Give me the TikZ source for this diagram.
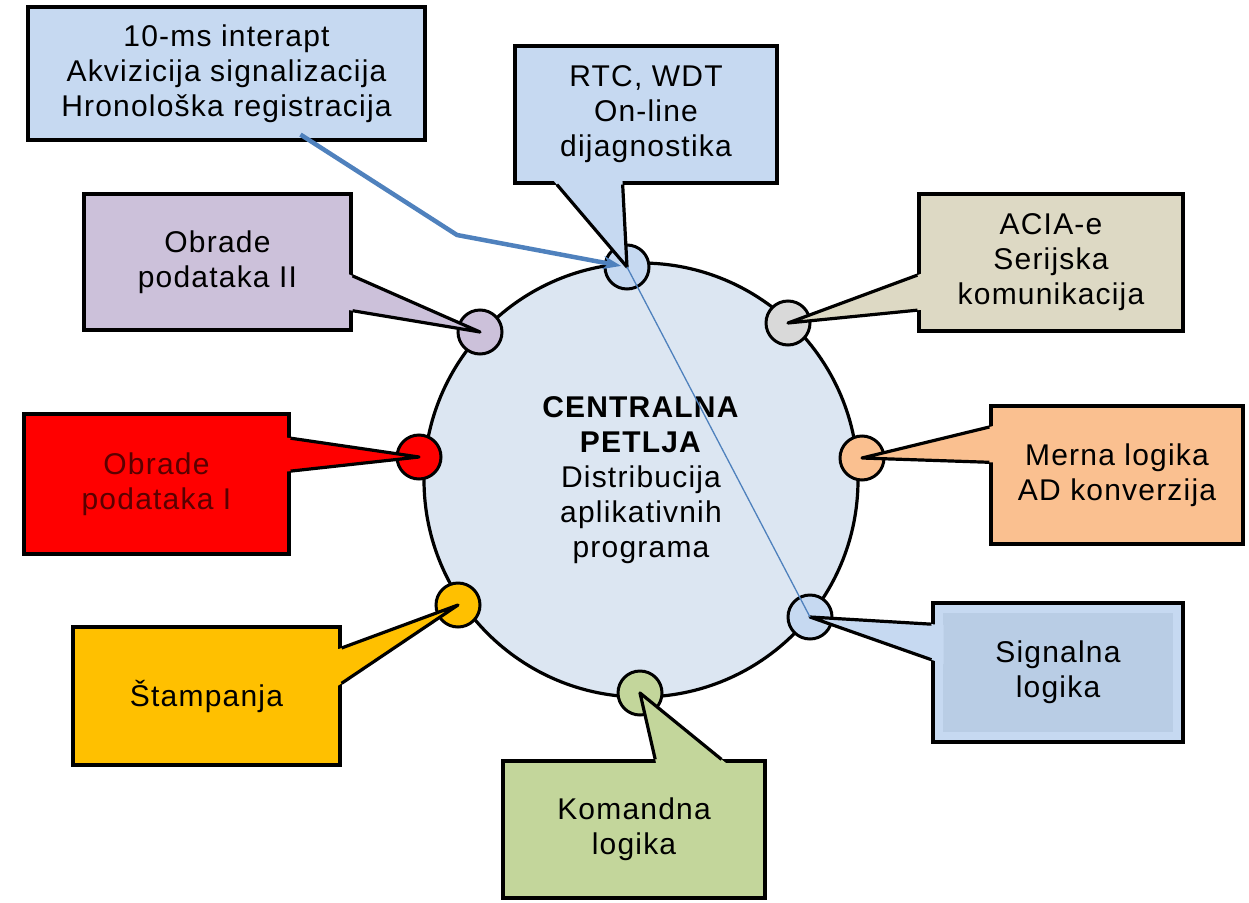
\documentclass[tikz,border=0pt]{standalone}
\usepackage{fontspec}
\setmainfont[LetterSpace=4]{Liberation Sans}
\usepackage{tikz}
\usetikzlibrary{calc}
\usetikzlibrary{arrows.meta}
\definecolor{loopfill}{HTML}{DCE6F2}
\definecolor{skyfill}{HTML}{C6D9F1}
\definecolor{sigfill}{HTML}{B9CDE5}
\definecolor{lilacfill}{HTML}{CCC1DA}
\definecolor{sandfill}{HTML}{DDD9C4}
\definecolor{greyfill}{HTML}{D9D9D9}
\definecolor{peachfill}{HTML}{FAC090}
\definecolor{goldfill}{HTML}{FFC000}
\definecolor{olivefill}{HTML}{C3D69B}
\definecolor{linkblue}{HTML}{4F81BD}
\definecolor{inkred}{HTML}{5A0000}
\newcommand\pointer[4]{%
  \fill[#1] (#4) -- ($(#4)!1.1!(#2)$) -- ($(#4)!1.1!(#3)$) -- cycle;
  \draw[wedge] (#2) -- (#4) -- (#3);
}

\begin{document}
\begin{tikzpicture}[x=1pt, y=-1pt,
  box/.style={draw, line width=3.2pt, align=center, inner sep=0pt, font=\fontsize{30}{35}\selectfont},
  port/.style={circle, draw, line width=3pt, minimum size=44pt, inner sep=0pt},
  wedge/.style={line width=3.2pt, line join=round},
  irqarrow/.style={linkblue, line width=4.5pt, line join=round, -{Stealth[length=18pt, width=13pt]}, shorten >=6pt},
  thinlink/.style={linkblue, line width=1.3pt}]
\useasboundingbox (0,0) rectangle (1249,902);
\node[circle, draw, line width=3.2pt, fill=loopfill, minimum size=434pt, inner sep=0pt, align=center, font=\fontsize{30}{35}\selectfont] (loop) at (641,480) {\textbf{CENTRALNA}\\\textbf{PETLJA}\\Distribucija\\aplikativnih\\programa};
\node[port, fill=skyfill] (pTop) at (627,267) {};
\node[port, fill=lilacfill] (pOb2) at (480,332) {};
\node[port, fill=greyfill] (pAcia) at (788,323) {};
\node[port, fill=red] (pOb1) at (419,457) {};
\node[port, fill=peachfill] (pMer) at (862,458) {};
\node[port, fill=goldfill] (pSt) at (458,605) {};
\node[port, fill=skyfill] (pSig) at (810,617) {};
\node[port, fill=olivefill] (pKom) at (640,693) {};

\node[box, fill=skyfill, minimum width=397, minimum height=133] (irq) at (226.5,73.5) {10-ms interapt\\Akvizicija signalizacija\\Hronološka registracija};
\node[box, fill=skyfill, minimum width=262, minimum height=137] (rtc) at (646,114.5) {RTC, WDT\\On-line\\dijagnostika};
\node[box, fill=lilacfill, minimum width=267, minimum height=136] (ob2) at (217.5,262) {Obrade\\podataka II};
\node[box, fill=sandfill, minimum width=264, minimum height=137] (acia) at (1051,262.5) {ACIA-e\\Serijska\\komunikacija};
\node[box, fill=red, text=inkred, minimum width=265, minimum height=140] (ob1) at (156.5,484) {Obrade\\podataka I};
\node[box, fill=peachfill, minimum width=252, minimum height=138] (mer) at (1117,475) {Merna logika\\AD konverzija};
\node[box, fill=goldfill, minimum width=267, minimum height=138] (st) at (206.5,696) {Štampanja};
\node[box, fill=skyfill, minimum width=250, minimum height=139,
  path picture={\fill[sigfill] ($(path picture bounding box.north west)+(10pt,-10pt)$) rectangle ($(path picture bounding box.south east)+(-10pt,10pt)$);}] (sig) at (1058,672.5) {Signalna\\logika};
\node[box, fill=olivefill, minimum width=262, minimum height=137] (kom) at (634,829.5) {Komandna\\logika};

\coordinate (rtcA) at ($(rtc.south west)!0.164!(rtc.south east)$);
\coordinate (rtcB) at ($(rtc.south west)!0.412!(rtc.south east)$);
\coordinate (ob2A) at ($(ob2.north east)!0.6!(ob2.south east)$);
\coordinate (ob2B) at ($(ob2.north east)!0.85!(ob2.south east)$);
\coordinate (aciaA) at ($(acia.north west)!0.59!(acia.south west)$);
\coordinate (aciaB) at ($(acia.north west)!0.84!(acia.south west)$);
\coordinate (ob1A) at ($(ob1.north east)!0.18!(ob1.south east)$);
\coordinate (ob1B) at ($(ob1.north east)!0.41!(ob1.south east)$);
\coordinate (merA) at ($(mer.north west)!0.16!(mer.south west)$);
\coordinate (merB) at ($(mer.north west)!0.41!(mer.south west)$);
\coordinate (stA) at ($(st.north east)!0.16!(st.south east)$);
\coordinate (stB) at ($(st.north east)!0.41!(st.south east)$);
\coordinate (sigA) at ($(sig.north west)!0.16!(sig.south west)$);
\coordinate (sigB) at ($(sig.north west)!0.41!(sig.south west)$);
\coordinate (komA) at ($(kom.north west)!0.58!(kom.north east)$);
\coordinate (komB) at ($(kom.north west)!0.83!(kom.north east)$);

\pointer{skyfill}{rtcA}{rtcB}{pTop.center}
\pointer{lilacfill}{ob2A}{ob2B}{pOb2.center}
\pointer{sandfill}{aciaA}{aciaB}{pAcia.center}
\pointer{red}{ob1A}{ob1B}{pOb1.center}
\pointer{peachfill}{merA}{merB}{pMer.center}
\pointer{goldfill}{stA}{stB}{pSt.center}
\pointer{skyfill}{sigA}{sigB}{pSig.center}
\pointer{olivefill}{komA}{komB}{pKom.center}

\draw[thinlink] (pTop.center) -- (pSig.center);
\coordinate (irqout) at ($(irq.south)+(74,-7)$);
\coordinate (bend) at (457,235);
\draw[irqarrow] (irqout) -- (bend) -- (pTop.center);
\end{tikzpicture}
\end{document}
